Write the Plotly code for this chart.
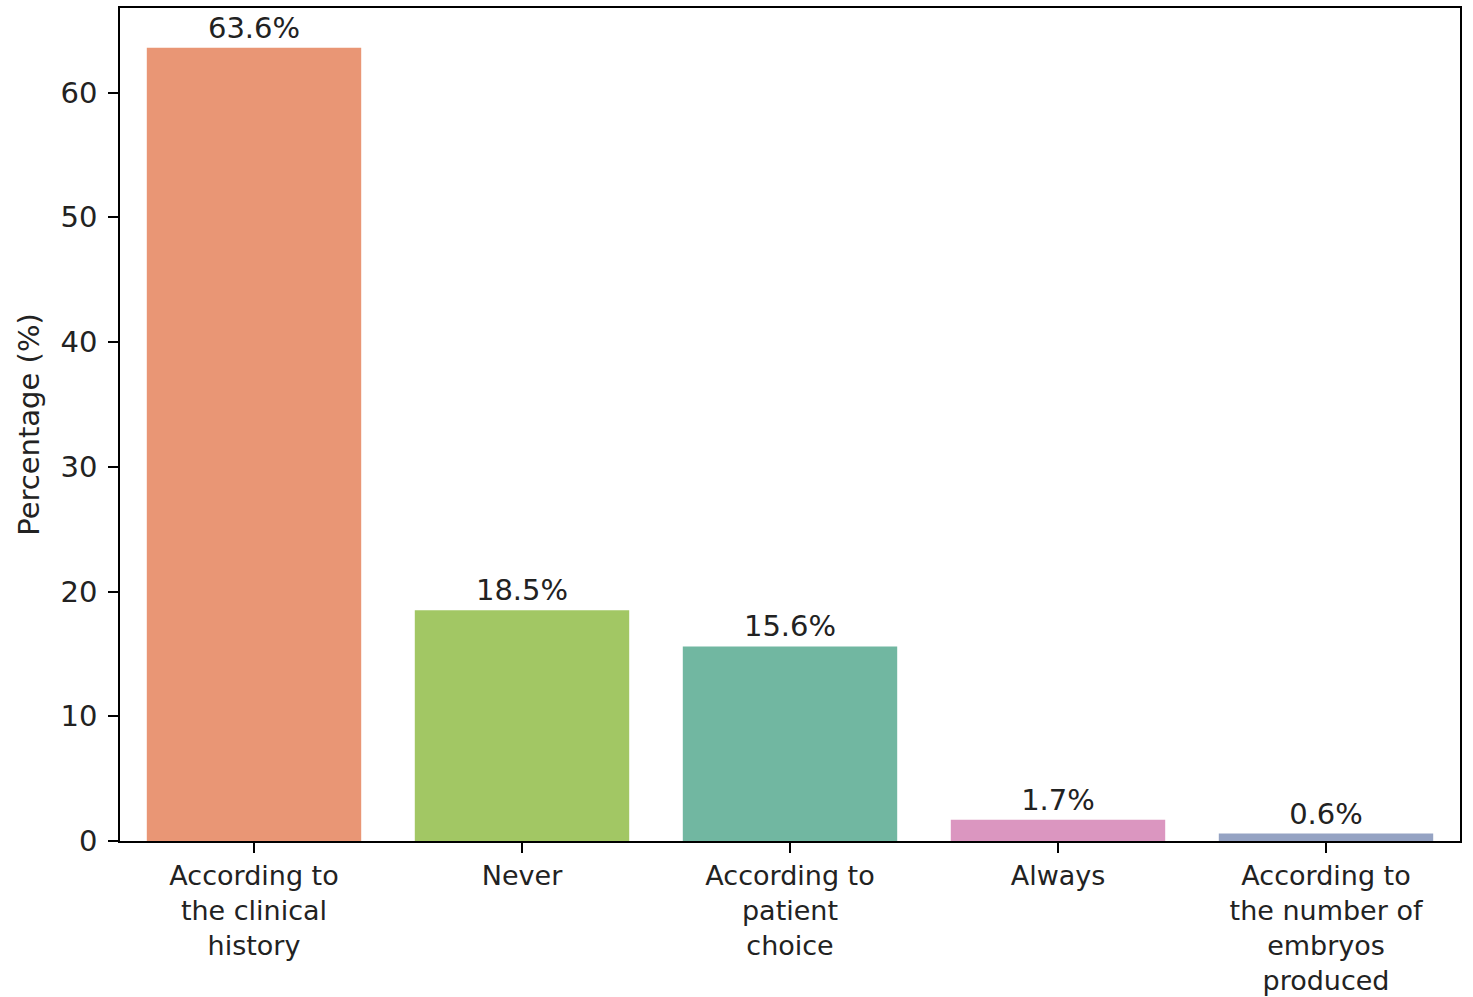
import plotly.graph_objects as go

categories = [
    "According to<br>the clinical<br>history",
    "Never",
    "According to<br>patient<br>choice",
    "Always",
    "According to<br>the number of<br>embryos<br>produced",
]
values = [63.6, 18.5, 15.6, 1.7, 0.6]
colors = ["#e99675", "#a2c764", "#71b7a1", "#db96c0", "#95a3c3"]
y_ticks = [0, 10, 20, 30, 40, 50, 60]

FONT = "DejaVu Sans"
TXT = "#222222"

fig = go.Figure(
    go.Bar(
        x=categories,
        y=values,
        marker=dict(color=colors, line=dict(width=0)),
        width=0.8,
        texttemplate="%{y:.1f}%",
        textposition="outside",
        textfont=dict(family=FONT, size=29, color=TXT),
        cliponaxis=False,
    )
)

fig.update_layout(
    width=1473,
    height=997,
    margin=dict(l=120, r=13, t=8, b=156),
    paper_bgcolor="white",
    plot_bgcolor="white",
    font=dict(family=FONT, size=29, color=TXT),
    showlegend=False,
    bargap=0.2,
)

fig.update_xaxes(
    range=[-0.5, 4.5],
    automargin=False,
    showline=True,
    linecolor="black",
    linewidth=1.5,
    mirror=True,
    ticks="outside",
    ticklen=10,
    tickwidth=1.5,
    tickcolor="black",
    showgrid=False,
    tickfont=dict(family=FONT, size=27, color=TXT),
    tickangle=0,
)

fig.update_yaxes(
    range=[0, 66.78],
    automargin=False,
    tickvals=y_ticks,
    showline=True,
    linecolor="black",
    linewidth=1.5,
    mirror=True,
    ticks="outside",
    ticklen=10,
    tickwidth=1.5,
    tickcolor="black",
    ticklabelstandoff=5,
    showgrid=False,
    zeroline=False,
    tickfont=dict(family=FONT, size=29, color=TXT),
    title=dict(text="Percentage (%)", font=dict(family=FONT, size=29, color=TXT), standoff=12),
)

fig.write_html(
    "out.html",
    config={"displayModeBar": False},
    post_script="document.body.style.margin='0';document.body.style.overflow='hidden';",
)
